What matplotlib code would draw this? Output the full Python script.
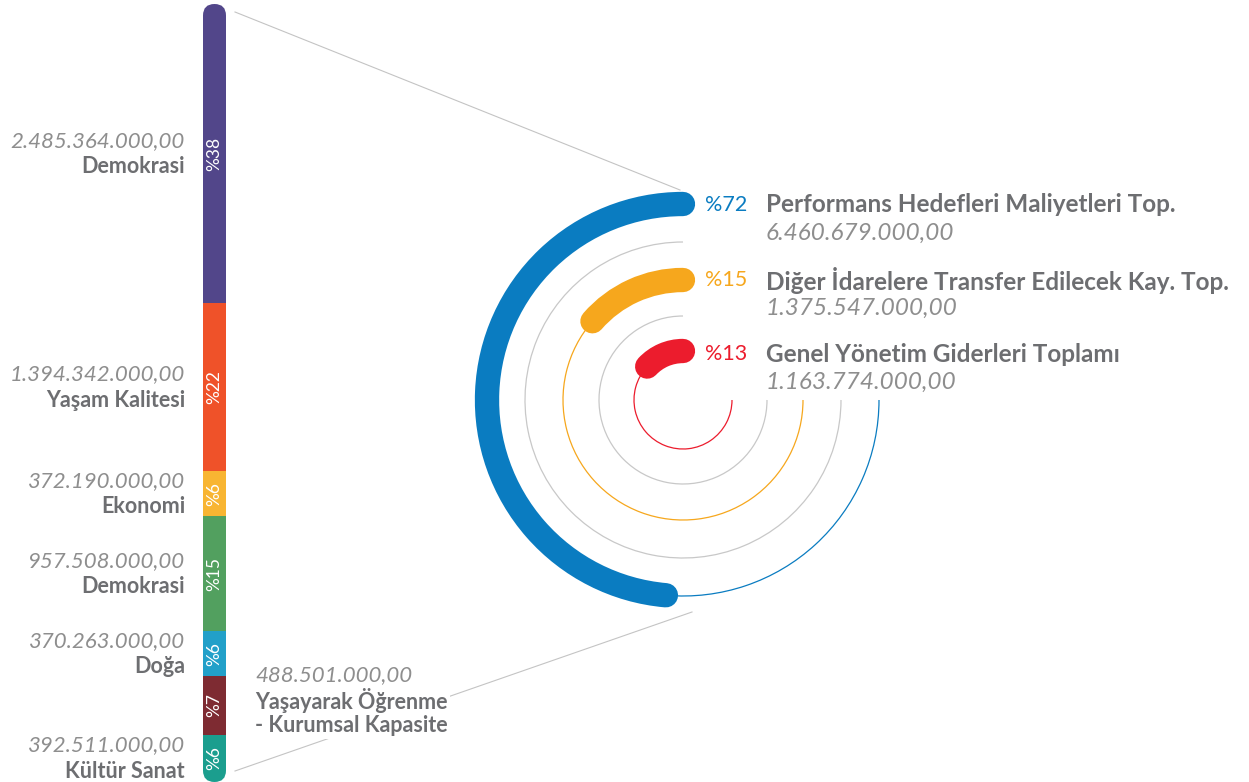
import numpy as np
import matplotlib
matplotlib.use("Agg")
import matplotlib.pyplot as plt
from matplotlib import patches, transforms

plt.rcParams['font.family'] = ['Lato', 'DejaVu Sans']

# left stacked bar
bar_names = ["Demokrasi", "Yaşam Kalitesi", "Ekonomi", "Demokrasi", "Doğa",
             "Yaşayarak Öğrenme\n- Kurumsal Kapasite", "Kültür Sanat"]
bar_values = [2485364000, 1394342000, 372190000, 957508000, 370263000, 488501000, 392511000]
bar_value_labels = ["2.485.364.000,00", "1.394.342.000,00", "372.190.000,00", "957.508.000,00",
                    "370.263.000,00", "488.501.000,00", "392.511.000,00"]
bar_pcts = ["%38", "%22", "%6", "%15", "%6", "%7", "%6"]
bar_colors = ["#52468a", "#ef5229", "#f8b532", "#52a05f", "#22a0c9", "#7e2b32", "#1b9e8e"]

# rings
ring_names = ["Performans Hedefleri Maliyetleri Top.", "Diğer İdarelere Transfer Edilecek Kay. Top.",
              "Genel Yönetim Giderleri Toplamı"]
ring_value_labels = ["6.460.679.000,00", "1.375.547.000,00", "1.163.774.000,00"]
ring_pcts = ["%72", "%15", "%13"]
ring_colors = ["#0a7cc1", "#f6a71d", "#ec1c2d"]
ring_radius = [196, 120, 49]
ring_end_deg = [265, 139, 137]   # where the thick part stops (from 90 going ccw)
grey_radius = [158, 84]

W, H = 1249, 782
fig = plt.figure(figsize=(W / 100, H / 100), dpi=100)
ax = fig.add_axes([0, 0, 1, 1])
ax.set_xlim(0, W)
ax.set_ylim(0, H)
ax.axis("off")

title_c = "#6d6e71"
val_c = "#8e8e8e"
val_font = dict(style="italic", fontweight="normal", color=val_c)

# ---- left bar ----
bx, bw, btop, bbot = 203, 23, 778, 0
bax = fig.add_axes([bx / W, bbot / H, bw / W, (btop - bbot) / H])
total = sum(bar_values)
bax.set_xlim(-0.5, 0.5)
bax.set_ylim(total, 0)
bax.axis("off")
clip = patches.FancyBboxPatch((bx, bbot), bw, btop - bbot,
                              boxstyle="round,pad=0,rounding_size=11.5",
                              transform=ax.transData)
bottoms = np.concatenate([[0], np.cumsum(bar_values)[:-1]])
bars = bax.bar(0, bar_values, bottom=bottoms, width=1.0, color=bar_colors, linewidth=0)
for b in bars:
    b.set_clip_path(clip)

blend = transforms.blended_transform_factory(ax.transData, bax.transData)
for i in range(len(bar_values)):
    mid = bottoms[i] + bar_values[i] / 2
    bax.text(0, mid, bar_pcts[i], rotation=90, color="white", fontsize=12.5,
             ha="center", va="center")
    if i == 5:
        continue
    ax.annotate(bar_value_labels[i], xy=(185, mid), xycoords=blend,
                xytext=(0, 13), textcoords="offset pixels", ha="right", va="center",
                fontsize=16, **val_font)
    ax.annotate(bar_names[i], xy=(185, mid), xycoords=blend,
                xytext=(0, -13), textcoords="offset pixels", ha="right", va="center",
                fontsize=15.5, fontweight="bold", color=title_c)

# connector lines
ax.plot([235, 680], [H - 12, H - 190], color="#c4c4c4", lw=0.8, zorder=1)
ax.plot([235, 692], [H - 771, H - 612], color="#c4c4c4", lw=0.8, zorder=1)

# label for the dark red segment, on the right of the bar
mid = bottoms[5] + bar_values[5] / 2
ax.annotate(bar_value_labels[5], xy=(255, mid), xycoords=blend,
            xytext=(0, 30), textcoords="offset pixels", ha="left", va="center",
            fontsize=16, zorder=3, bbox=dict(facecolor="white", edgecolor="none", pad=1),
            **val_font)
ax.annotate(bar_names[5], xy=(255, mid), xycoords=blend,
            xytext=(0, -7), textcoords="offset pixels", ha="left", va="center",
            fontsize=15.5, fontweight="bold", color=title_c, zorder=3, linespacing=1.1,
            bbox=dict(facecolor="white", edgecolor="none", pad=2))

# ---- rings ----
cx, cy = 683, H - 400
for r in grey_radius:
    ax.add_patch(patches.Arc((cx, cy), 2 * r, 2 * r, theta1=90, theta2=360,
                             color="#c8c8c8", lw=0.9))
for i in range(3):
    r = ring_radius[i]
    ax.add_patch(patches.Arc((cx, cy), 2 * r, 2 * r, theta1=ring_end_deg[i], theta2=360,
                             color=ring_colors[i], lw=0.9))
    ax.add_patch(patches.Arc((cx, cy), 2 * r, 2 * r, theta1=90, theta2=ring_end_deg[i],
                             color=ring_colors[i], lw=17.5, capstyle="round"))

label_y = [205, 280, 354]
for i in range(3):
    ax.text(705, H - label_y[i], ring_pcts[i], color=ring_colors[i], fontsize=15.5,
            ha="left", va="center")
    ax.text(766, H - label_y[i], ring_names[i], color=title_c, fontsize=17.5,
            fontweight="bold", ha="left", va="center")
    ax.text(766, H - label_y[i] - 28, ring_value_labels[i], fontsize=17.5,
            ha="left", va="center", **val_font)

fig.savefig("out.png", dpi=100)
